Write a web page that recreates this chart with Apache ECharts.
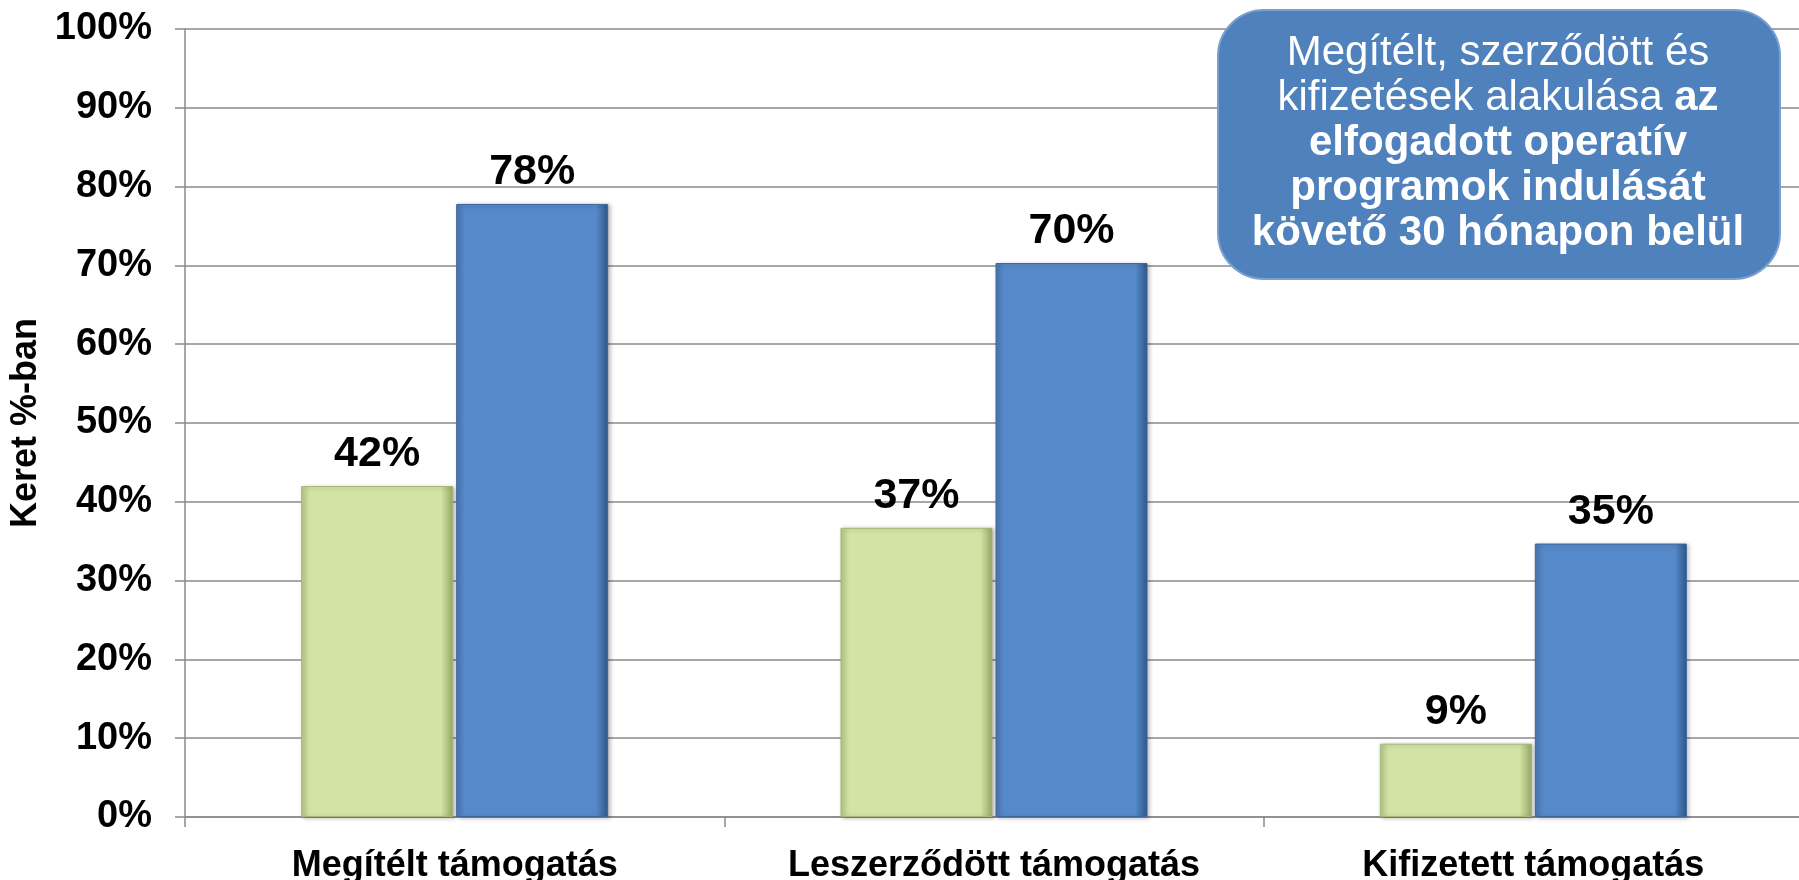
<!DOCTYPE html>
<html>
<head>
<meta charset="utf-8">
<script src="https://cdn.jsdelivr.net/npm/echarts@6/dist/echarts.min.js"></script>
<style>
html,body{margin:0;padding:0;background:#fff;}
#chart{width:1799px;height:880px;}
</style>
</head>
<body>
<div id="chart"></div>
<script>
const categories = ['Megítélt támogatás', 'Leszerződött támogatás', 'Kifizetett támogatás'];
const greenValues = [42, 36.7, 9.3];
const blueValues = [77.8, 70.3, 34.7];
const yTicks = [0, 10, 20, 30, 40, 50, 60, 70, 80, 90, 100];
const yAxisTitle = 'Keret %-ban';
const FONT = 'Liberation Sans, Arial, Helvetica, sans-serif';

const chart = echarts.init(document.getElementById('chart'));

function barGradient(edgeL, mid, edgeR) {
  return new echarts.graphic.LinearGradient(0, 0, 1, 0, [
    {offset: 0, color: edgeL},
    {offset: 0.06, color: mid},
    {offset: 0.92, color: mid},
    {offset: 1, color: edgeR}
  ]);
}

const labelCfg = {
  show: true,
  position: 'top',
  distance: 10,
  fontFamily: FONT,
  fontWeight: 'bold',
  fontSize: 43,
  color: '#000',
  formatter: p => Math.round(p.value) + '%'
};

chart.setOption({
  animation: false,
  backgroundColor: '#ffffff',
  grid: {left: 185, top: 29, width: 1618, bottom: 63, containLabel: false, outerBoundsMode: 'none'},
  xAxis: {
    type: 'category',
    data: categories,
    axisLine: {show: true, lineStyle: {color: '#8a8a8a', width: 1.5}},
    axisTick: {show: true, length: 10, alignWithLabel: false, lineStyle: {color: '#8a8a8a', width: 1.5}},
    axisLabel: {
      interval: 0, hideOverlap: false,
      fontFamily: FONT, fontWeight: 'bold', fontSize: 36, color: '#000', margin: 31
    }
  },
  yAxis: {
    type: 'value',
    min: yTicks[0],
    max: yTicks[yTicks.length - 1],
    interval: 10,
    name: yAxisTitle,
    nameLocation: 'middle',
    nameRotate: 90,
    nameGap: 134,
    nameTextStyle: {fontFamily: FONT, fontWeight: 'bold', fontSize: 36, color: '#000'},
    axisLine: {show: true, lineStyle: {color: '#8a8a8a', width: 1.5}},
    axisTick: {show: true, length: 10, lineStyle: {color: '#8a8a8a', width: 1.5}},
    splitLine: {show: true, lineStyle: {color: '#8a8a8a', width: 1.5}},
    axisLabel: {
      fontFamily: FONT, fontWeight: 'bold', fontSize: 38, color: '#000', margin: 33,
      formatter: v => v + '%'
    }
  },
  series: [
    {
      type: 'bar',
      data: greenValues,
      barWidth: 152,
      barGap: '2%',
      itemStyle: {
        color: barGradient('#b7c889', '#d3e3a5', '#94a765'),
        borderColor: '#a4b677',
        borderWidth: 1,
        shadowColor: 'rgba(0,0,0,0.25)',
        shadowBlur: 4,
        shadowOffsetX: 2,
        shadowOffsetY: 1
      },
      label: labelCfg
    },
    {
      type: 'bar',
      data: blueValues,
      barWidth: 152,
      barGap: '2%',
      itemStyle: {
        color: barGradient('#4a78b3', '#5689c9', '#2f5689'),
        borderColor: '#3d669d',
        borderWidth: 1,
        shadowColor: 'rgba(0,0,0,0.25)',
        shadowBlur: 4,
        shadowOffsetX: 2,
        shadowOffsetY: 1
      },
      label: labelCfg
    }
  ],
  graphic: [
    {
      type: 'rect',
      left: 1217, top: 9,
      shape: {width: 562, height: 269, r: 46},
      style: {fill: '#4f81bd', stroke: '#7aa0cf', lineWidth: 2},
      z: 100
    },
    {
      type: 'text',
      x: 1498, y: 143,
      z: 101,
      style: {
        text: '{n|Megítélt, szerződött és}\n{n|kifizetések alakulása }{b|az}\n{b|elfogadott operatív}\n{b|programok indulását}\n{b|követő 30 hónapon belül}',
        align: 'center',
        verticalAlign: 'middle',
        fill: '#fff',
        rich: {
          n: {fontFamily: FONT, fontSize: 42, lineHeight: 45, color: '#fff'},
          b: {fontFamily: FONT, fontSize: 42, fontWeight: 'bold', lineHeight: 45, color: '#fff'}
        }
      }
    }
  ]
});
</script>
</body>
</html>
